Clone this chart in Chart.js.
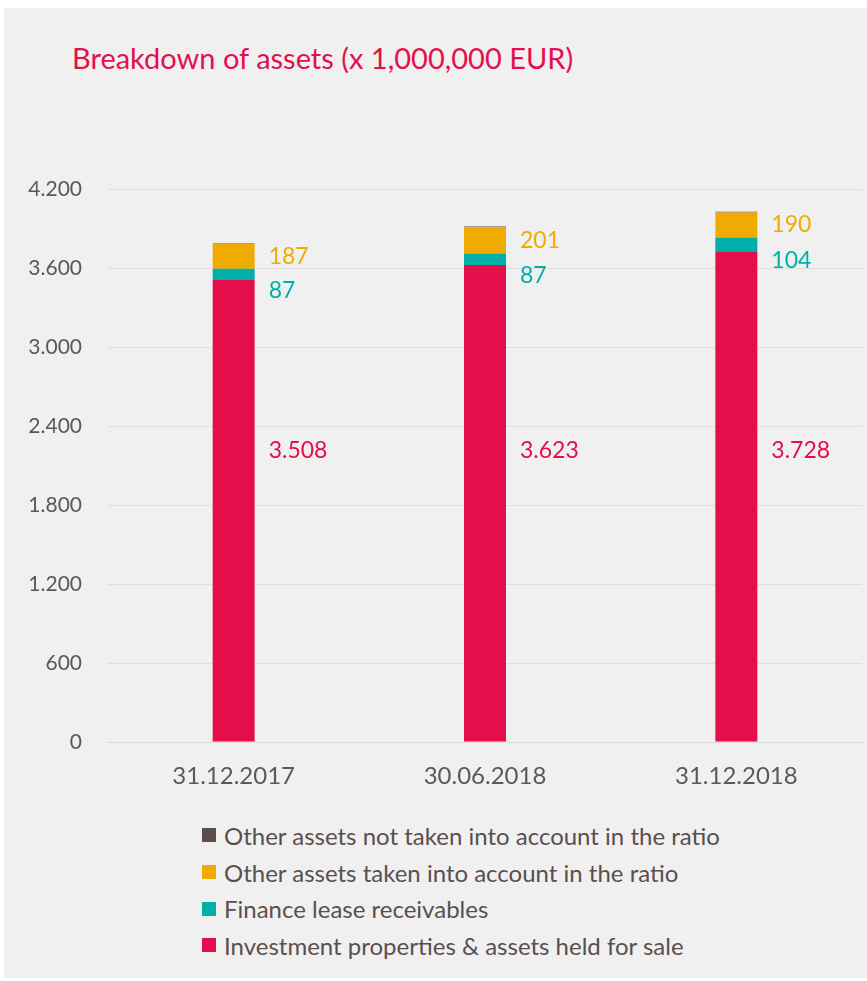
<!DOCTYPE html>
<html>
<head>
<meta charset="utf-8">
<script src="https://cdn.jsdelivr.net/npm/chart.js@4.4.1/dist/chart.umd.min.js"></script>
<style>
  body { margin: 0; background: #fff; font-family: Lato, "Open Sans", sans-serif; }
  #panel { position: absolute; left: 4px; top: 8px; width: 863px; height: 970px; background: #f0f0f0; }
  #title { position: absolute; left: 68px; top: 32px; font-size: 29px; color: #e3104f; white-space: nowrap; }
  #chartBox { position: absolute; left: 0; top: 0; width: 863px; height: 800px; }
  #legend { position: absolute; left: 198px; top: 809px; list-style: none; margin: 0; padding: 0; }
  #legend li { height: 36.7px; font-size: 24px; color: #5a4f4f; display: flex; align-items: center; white-space: nowrap; }
  #legend span { display: inline-block; width: 14px; height: 14px; margin-right: 8px; }
</style>
</head>
<body>
<div id="panel">
  <div id="title">Breakdown of assets (x 1,000,000 EUR)</div>
  <div id="chartBox"><canvas id="assetsChart"></canvas></div>
  <ul id="legend"></ul>
</div>
<script>
// data
var categories = ['31.12.2017', '30.06.2018', '31.12.2018'];
var investmentProps = [3508, 3623, 3728];
var financeLease = [87, 87, 104];
var otherInRatio = [187, 201, 190];
var otherNotInRatio = [5, 5, 5];
var yTicks = [0, 600, 1200, 1800, 2400, 3000, 3600, 4200];

var seriesNames = [
  'Investment properties & assets held for sale',
  'Finance lease receivables',
  'Other assets taken into account in the ratio',
  'Other assets not taken into account in the ratio'
];
var seriesColors = ['#e30e4a', '#00b0a8', '#f0ab00', '#5b4d48'];

function fmt(v) {
  return String(v).replace(/\B(?=(\d{3})+(?!\d))/g, '.');
}

// labels to the right of each bar
var sideLabels = {
  id: 'sideLabels',
  afterDatasetsDraw: function (chart) {
    var ctx = chart.ctx;
    var y = chart.scales.y;
    ctx.save();
    ctx.font = '23px Lato, "Open Sans", sans-serif';
    ctx.textBaseline = 'middle';
    ctx.textAlign = 'left';
    [0, 1, 2].forEach(function (di) {
      var meta = chart.getDatasetMeta(di);
      meta.data.forEach(function (bar, i) {
        var x = bar.x + bar.width / 2 + 14;
        var py;
        if (di === 0) {
          py = y.getPixelForValue(2210);
        } else if (di === 1) {
          py = (bar.y + bar.base) / 2 + 16;
        } else {
          py = (bar.y + bar.base) / 2;
        }
        ctx.fillStyle = seriesColors[di];
        ctx.fillText(fmt(chart.data.datasets[di].data[i]), x, py);
      });
    });
    ctx.restore();
  }
};

var chart = new Chart(document.getElementById('assetsChart'), {
  type: 'bar',
  data: {
    labels: categories,
    datasets: [
      { label: seriesNames[0], data: investmentProps, backgroundColor: seriesColors[0] },
      { label: seriesNames[1], data: financeLease, backgroundColor: seriesColors[1] },
      { label: seriesNames[2], data: otherInRatio, backgroundColor: seriesColors[2] },
      { label: seriesNames[3], data: otherNotInRatio, backgroundColor: seriesColors[3] }
    ]
  },
  options: {
    responsive: true,
    maintainAspectRatio: false,
    animation: false,
    layout: { padding: { top: 181, right: 5, bottom: 16, left: 0 } },
    datasets: { bar: { barPercentage: 0.167, categoryPercentage: 1 } },
    plugins: {
      legend: { display: false },
      tooltip: { enabled: false }
    },
    scales: {
      x: {
        stacked: true,
        grid: { display: false },
        border: { color: '#d9d9d9' },
        ticks: { color: '#595959', font: { size: 24, family: 'Lato' }, padding: 12 },
        afterFit: function (s) { s.height = 50; }
      },
      y: {
        stacked: true,
        min: 0,
        max: 4200,
        afterBuildTicks: function (s) { s.ticks = yTicks.map(function (v) { return { value: v }; }); },
        grid: { color: '#e2dede', drawTicks: false },
        border: { display: false },
        ticks: {
          color: '#595959',
          font: { size: 21, family: 'Lato' },
          padding: 26,
          callback: function (v) { return fmt(v); }
        },
        afterFit: function (s) { s.width = 104; }
      }
    }
  },
  plugins: [sideLabels]
});

// legend, reversed order like the original
var legend = document.getElementById('legend');
for (var i = seriesNames.length - 1; i >= 0; i--) {
  var li = document.createElement('li');
  li.innerHTML = '<span style="background:' + seriesColors[i] + '"></span>' + seriesNames[i];
  legend.appendChild(li);
}
</script>
</body>
</html>
